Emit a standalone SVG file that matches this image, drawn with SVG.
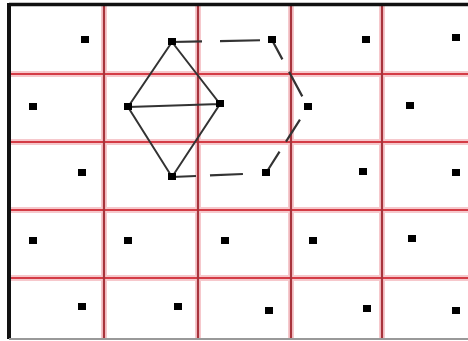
<svg xmlns="http://www.w3.org/2000/svg" width="468" height="341" viewBox="0 0 468 341">
<style>
.halo{stroke:#f6c8cc;stroke-width:6;fill:none}
.gv{stroke:#a8343c;stroke-width:2.2;fill:none}
.gh{stroke:#d43c46;stroke-width:2.2;fill:none}
.dot{fill:#000}
.solid{stroke:#333;stroke-width:2;fill:none}
.dash{stroke:#333;stroke-width:2.2;fill:none}
</style>
<rect x="0" y="0" width="468" height="341" fill="#fff"/>
<g id="grid">
<path class="halo" d="M104 5V338M198 5V338M291 5V338M382 5V338M10 74H468M10 142H468M10 210H468M10 278H468"/>
<path class="gh" d="M10 74H468M10 142H468M10 210H468M10 278H468"/>
<path class="gv" d="M104 5V338M198 5V338M291 5V338M382 5V338"/>
</g>
<g id="border">
<path d="M9 4.5H468" stroke="#111" stroke-width="3.5"/>
<path d="M9 3V339" stroke="#111" stroke-width="4"/>
<path d="M9 339H468" stroke="#999" stroke-width="2"/>
</g>
<g id="connectors">
<path class="solid" d="M172 42L128 107L172 177L220 104L172 42M128 107L220 104"/>
<path class="dash" d="M172 42L272 40" stroke-dasharray="30 18 40 12"/>
<path class="dash" d="M272 40L308 107" stroke-dasharray="22 14 28 20"/>
<path class="dash" d="M308 107L266 173" stroke-dasharray="0 15 26 12 22 10"/>
<path class="dash" d="M172 177L266 173" stroke-dasharray="24 14 33 30"/>
</g>
<g id="nodes">
<g id="n1"><rect class="dot" x="81" y="36" width="8" height="7"/></g>
<g id="n2"><rect class="dot" x="168" y="38" width="8" height="7"/></g>
<g id="n3"><rect class="dot" x="268" y="36" width="8" height="7"/></g>
<g id="n4"><rect class="dot" x="362" y="36" width="8" height="7"/></g>
<g id="n5"><rect class="dot" x="452" y="34" width="8" height="7"/></g>
<g id="n6"><rect class="dot" x="29" y="103" width="8" height="7"/></g>
<g id="n7"><rect class="dot" x="124" y="103" width="8" height="7"/></g>
<g id="n8"><rect class="dot" x="216" y="100" width="8" height="7"/></g>
<g id="n9"><rect class="dot" x="304" y="103" width="8" height="7"/></g>
<g id="n10"><rect class="dot" x="406" y="102" width="8" height="7"/></g>
<g id="n11"><rect class="dot" x="78" y="169" width="8" height="7"/></g>
<g id="n12"><rect class="dot" x="168" y="173" width="8" height="7"/></g>
<g id="n13"><rect class="dot" x="262" y="169" width="8" height="7"/></g>
<g id="n14"><rect class="dot" x="359" y="168" width="8" height="7"/></g>
<g id="n15"><rect class="dot" x="452" y="169" width="8" height="7"/></g>
<g id="n16"><rect class="dot" x="29" y="237" width="8" height="7"/></g>
<g id="n17"><rect class="dot" x="124" y="237" width="8" height="7"/></g>
<g id="n18"><rect class="dot" x="221" y="237" width="8" height="7"/></g>
<g id="n19"><rect class="dot" x="309" y="237" width="8" height="7"/></g>
<g id="n20"><rect class="dot" x="408" y="235" width="8" height="7"/></g>
<g id="n21"><rect class="dot" x="78" y="303" width="8" height="7"/></g>
<g id="n22"><rect class="dot" x="174" y="303" width="8" height="7"/></g>
<g id="n23"><rect class="dot" x="265" y="307" width="8" height="7"/></g>
<g id="n24"><rect class="dot" x="363" y="305" width="8" height="7"/></g>
<g id="n25"><rect class="dot" x="452" y="307" width="8" height="7"/></g>
</g>
</svg>
